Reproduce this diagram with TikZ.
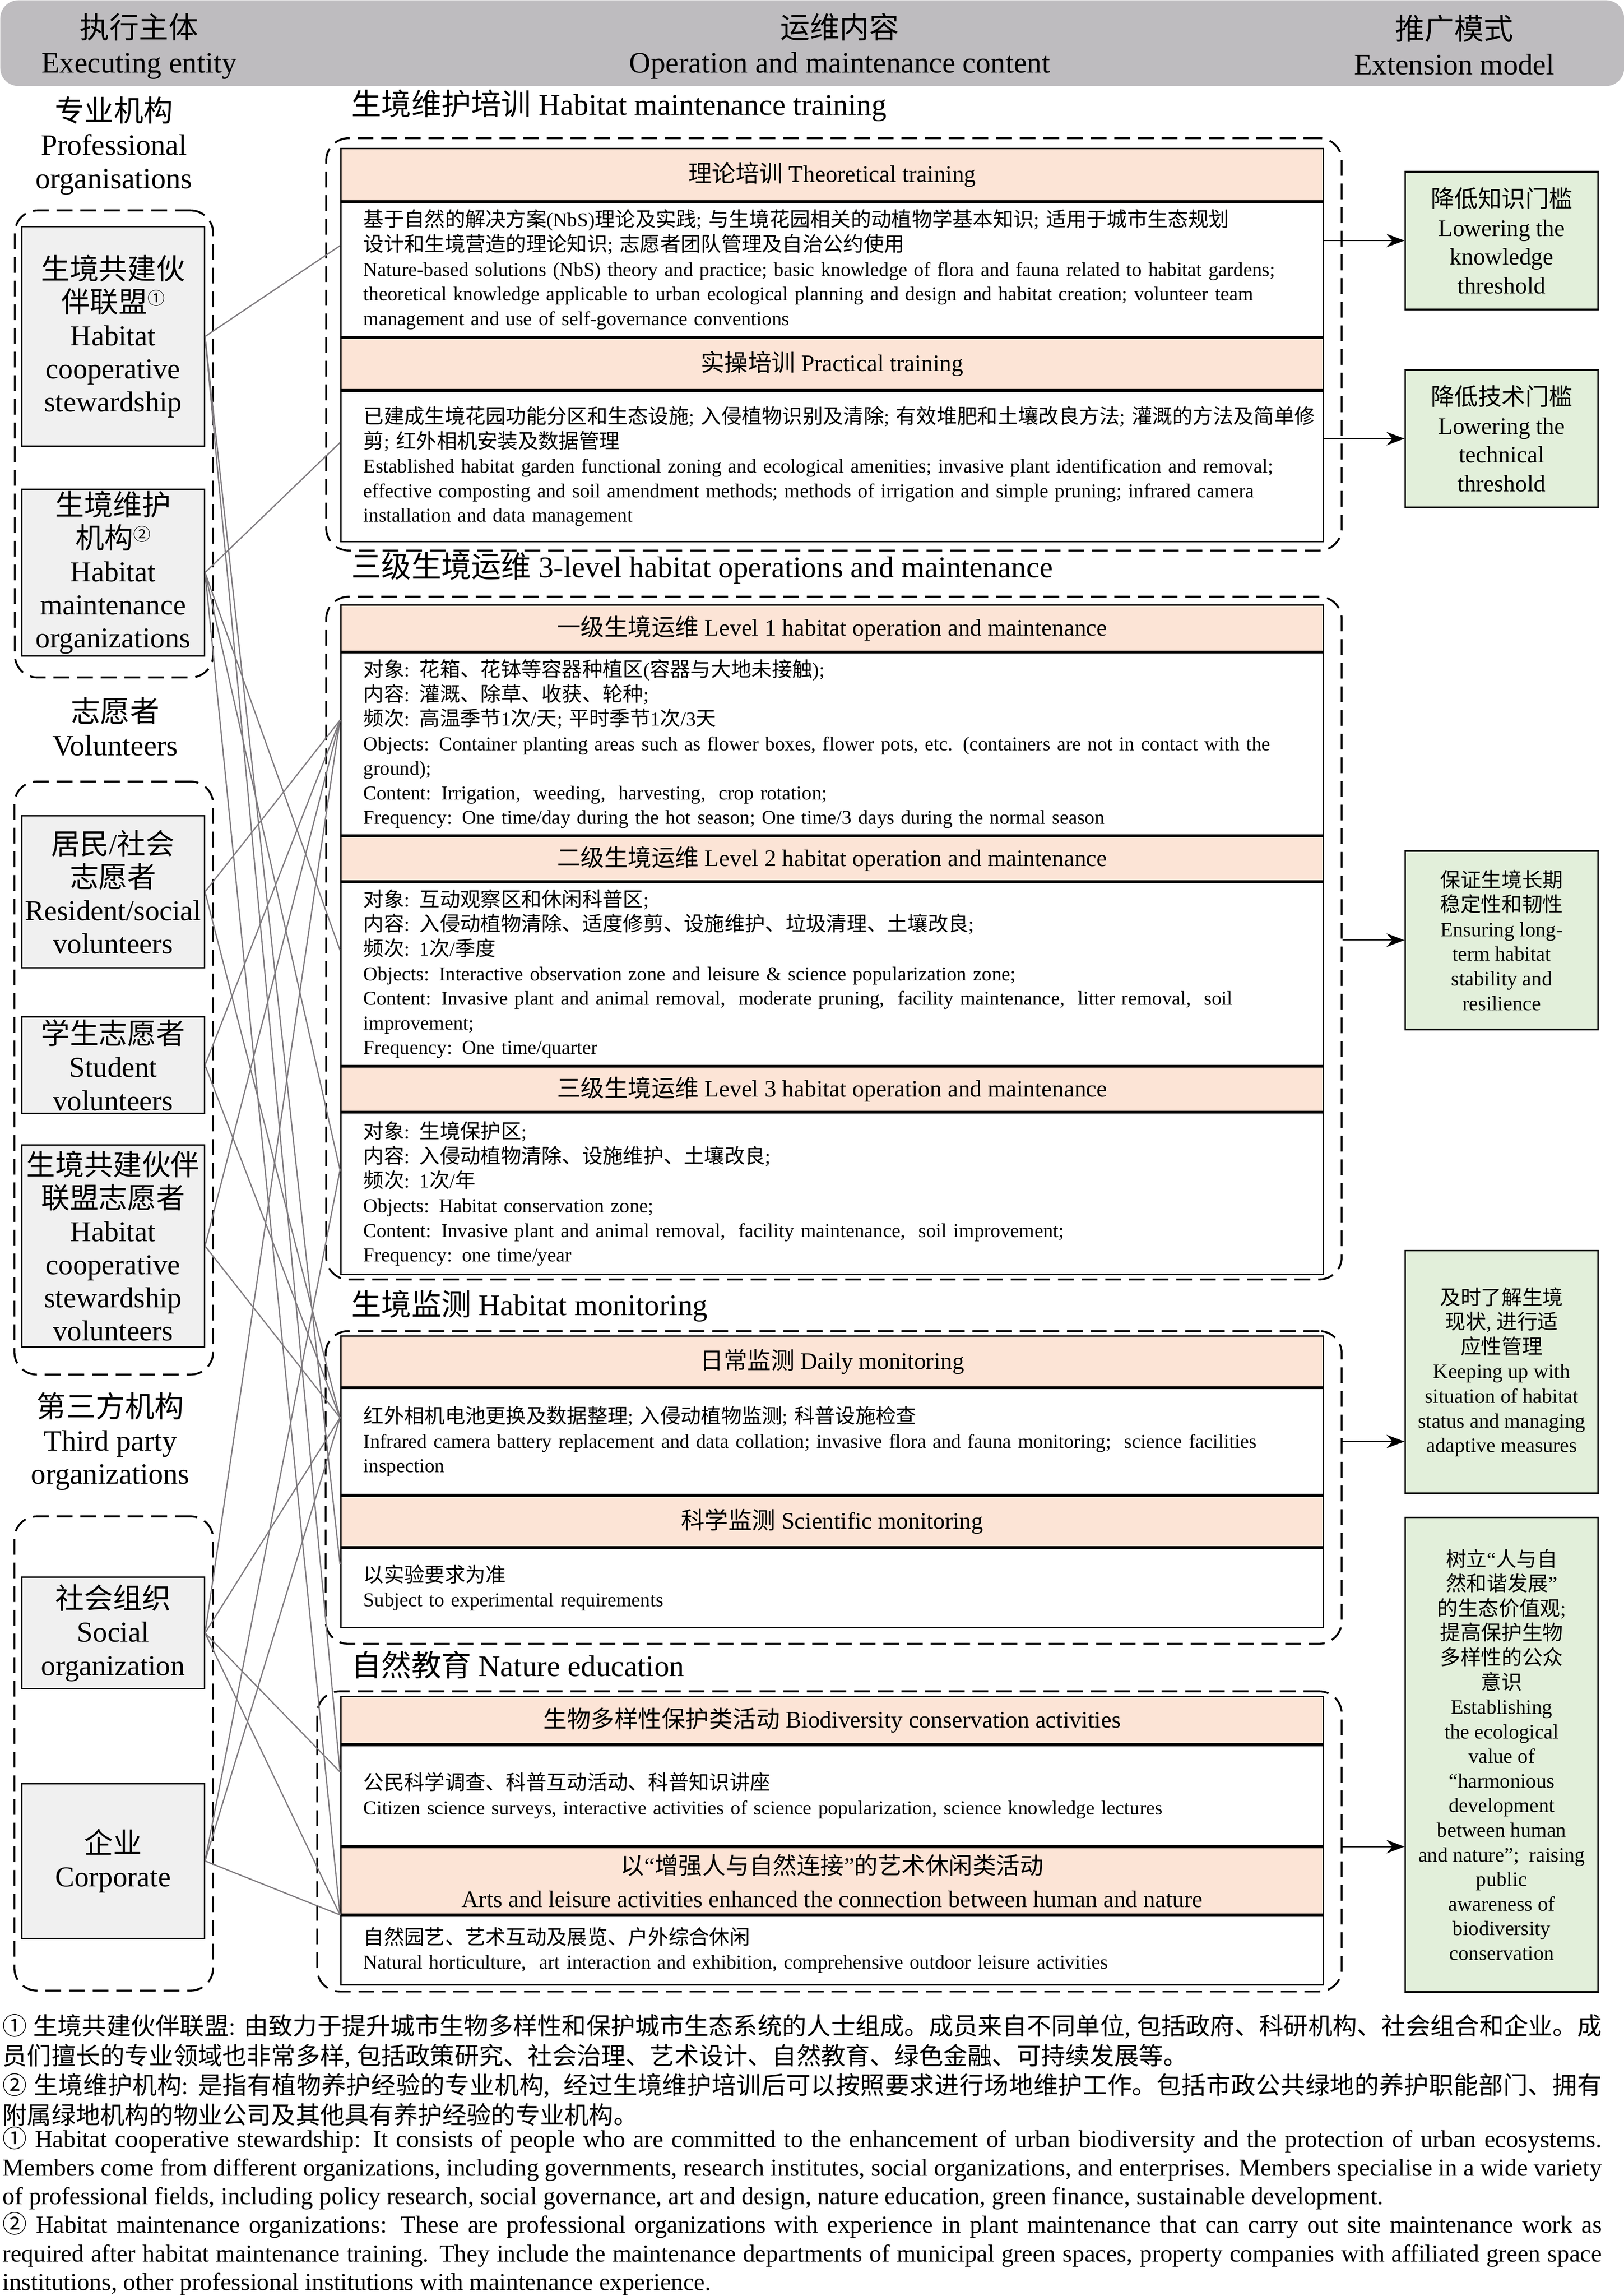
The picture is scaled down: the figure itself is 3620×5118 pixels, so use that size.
\documentclass[tikz,border=0pt]{standalone}
\usepackage{fontspec}
\setmainfont{Liberation Serif}
\newfontfamily\cjkfam{Noto Sans CJK SC}
\usetikzlibrary{positioning, calc, arrows.meta}

% switch to the CJK font for Chinese characters
\let\cjkscale\relax
\newcommand{\cjkfont}{\cjkfam\cjkscale}
\XeTeXinterchartokenstate=1
\chardef\cjkcls=7
\newcount\cjkc
\def\setcjkrange#1#2{\cjkc=#1\relax\loop\XeTeXcharclass\cjkc=\cjkcls\ifnum\cjkc<#2\advance\cjkc by 1\repeat}
\setcjkrange{"4E00}{"9FFF}
\setcjkrange{"3000}{"303F}
\setcjkrange{"FF00}{"FFEF}
\setcjkrange{"2460}{"2473}
\XeTeXcharclass"201C=0
\XeTeXcharclass"201D=0
\XeTeXinterchartoks 0 7 = {\begingroup\cjkfont}
\XeTeXinterchartoks 1 7 = {\begingroup\cjkfont}
\XeTeXinterchartoks 2 7 = {\begingroup\cjkfont}
\XeTeXinterchartoks 3 7 = {\begingroup\cjkfont}
\XeTeXinterchartoks 4095 7 = {\begingroup\cjkfont}
\XeTeXinterchartoks 7 0 = {\endgroup}
\XeTeXinterchartoks 7 1 = {\endgroup}
\XeTeXinterchartoks 7 2 = {\endgroup}
\XeTeXinterchartoks 7 3 = {\endgroup}
\XeTeXinterchartoks 7 4095 = {\endgroup}
\XeTeXlinebreaklocale "zh"
\XeTeXlinebreakskip=0pt plus 1pt

\definecolor{hdrgray}{RGB}{190,188,191}
\definecolor{entgray}{RGB}{240,240,240}
\definecolor{peach}{RGB}{252,228,214}
\definecolor{extgreen}{RGB}{226,239,218}
\definecolor{linkgray}{RGB}{127,123,127}

\newcommand{\fhdr}{\fontsize{18.8}{22}\selectfont}
\newcommand{\flab}{\fontsize{18.7}{21.2}\selectfont}
\newcommand{\fent}{\fontsize{18.3}{21}\selectfont}
\newcommand{\fsec}{\fontsize{19}{22}\selectfont}
\newcommand{\fhead}{\fontsize{15}{21}\selectfont}
\newcommand{\fbody}{\fontsize{12.5}{15.6}\selectfont\hyphenpenalty=10000\def\cjkscale{\fontsize{12.9}{15.6}\selectfont}}
\newcommand{\fextl}{\fontsize{15}{18.2}\selectfont}
\newcommand{\fexts}{\fontsize{13}{15.6}\selectfont}
\newcommand{\fnzh}{\fontsize{15.5}{18.8}\selectfont\parindent=0pt}
\newcommand{\fnen}{\fontsize{15.5}{18.1}\selectfont\parindent=0pt}
\newcommand{\sups}[1]{{\fontsize{11}{11}\selectfont\raisebox{5pt}{#1}}}

\begin{document}
\begin{tikzpicture}[x=0.1mm, y=-0.1mm,
    every node/.style={align=center, inner sep=0pt},
    grp/.style={rectangle, draw=black, dash pattern=on 10pt off 5pt, line width=1.2pt, rounded corners=5mm},
    ent/.style={rectangle, draw=black, fill=entgray, minimum width=40.7mm, line width=0.9pt, font=\fent},
    hd/.style={rectangle, draw=black, fill=peach, minimum width=219.1mm, line width=0.9pt, font=\fhead},
    bd/.style={rectangle, draw=black, fill=white, minimum width=219.1mm, text width=208.9mm, inner xsep=5.1mm, align=left, line width=0.9pt, font=\fbody},
    ext/.style={rectangle, draw=black, fill=extgreen, minimum width=43mm, line width=1pt},
    link/.style={draw=linkgray, line width=0.8pt},
    arrow/.style={line width=0.6pt, -{Stealth[length=4mm, width=3mm]}}
]
\useasboundingbox (0,0) rectangle (3620,5118);

% Header
\node (hdr) [fill=hdrgray, rounded corners=4mm, minimum width=362mm, minimum height=19.1mm, anchor=north west] at (0,0) {};
\node (hdl) [font=\fhdr] at (310,103) {执行主体\\Executing entity};
\node (hdm) [font=\fhdr] at (1872,103) {运维内容\\Operation and maintenance content};
\node (hdx) [font=\fhdr] at (3242,100) {推广模式\\Extension model};

% Executing entities
\node (lab1) [font=\flab] at (254,325) {专业机构\\Professional\\organisations};
\node (lg1) [grp, anchor=north west, minimum width=44.2mm, minimum height=104.1mm] at (31,467) {};
\node (pa) [ent, anchor=north west, minimum height=48.9mm] at (47,504) {生境共建伙\\伴联盟\sups{①}\\Habitat\\cooperative\\stewardship};
\node (pb) [ent, below=9.3mm of pa, minimum height=37.1mm] {生境维护\\机构\sups{②}\\Habitat\\maintenance\\organizations};

\node (lab2) [font=\flab] at (257,1620) {志愿者\\Volunteers};
\node (lg2) [grp, anchor=north west, minimum width=44.3mm, minimum height=132.2mm] at (30,1740) {};
\node (vr) [ent, anchor=north west, minimum height=33.9mm] at (47,1817) {居民/社会\\志愿者\\Resident/social\\volunteers};
\node (vs) [ent, below=10.6mm of vr, minimum height=21.5mm] {学生志愿者\\Student\\volunteers};
\node (vh) [ent, below=6.7mm of vs, minimum height=45.1mm] {生境共建伙伴\\联盟志愿者\\Habitat\\cooperative\\stewardship\\volunteers};

\node (lab3) [font=\flab] at (246,3213) {第三方机构\\Third party\\organizations};
\node (lg3) [grp, anchor=north west, minimum width=44.3mm, minimum height=105.7mm] at (30,3378) {};
\node (tso) [ent, anchor=north west, minimum height=24.9mm] at (47,3514) {社会组织\\Social\\organization};
\node (tco) [ent, below=20.8mm of tso, minimum height=34.5mm] {企业\\Corporate};

% Habitat maintenance training
\node (sec1) [font=\fsec, anchor=west] at (783,235) {生境维护培训 Habitat maintenance training};
\node (g1) [grp, anchor=north west, minimum width=226.4mm, minimum height=91.9mm] at (725,306) {};
\node (t1h) [hd, anchor=north west, minimum height=11.6mm] at (758,330) {理论培训 Theoretical training};
\node (t1b) [bd, below=0pt of t1h, minimum height=30mm] {基于自然的解决方案(NbS)理论及实践; 与生境花园相关的动植物学基本知识; 适用于城市生态规划\\
设计和生境营造的理论知识; 志愿者团队管理及自治公约使用\\
Nature-based solutions (NbS) theory and practice; basic knowledge of flora and fauna related to habitat gardens;\\
theoretical knowledge applicable to urban ecological planning and design and habitat creation; volunteer team\\
management and use of self-governance conventions};
\node (t2h) [hd, below=0pt of t1b, minimum height=11.5mm] {实操培训 Practical training};
\node (t2b) [bd, below=0pt of t2h, minimum height=33.5mm] {\mbox{已建成生境花园功能分区和生态设施; 入侵植物识别及清除; 有效堆肥和土壤改良方法; 灌溉的方法及简单修}\\
剪; 红外相机安装及数据管理\\
Established habitat garden functional zoning and ecological amenities; invasive plant identification and removal;\\
effective composting and soil amendment methods; methods of irrigation and simple pruning; infrared camera\\
installation and data management};

% 3-level habitat operations and maintenance
\node (sec2) [font=\fsec, anchor=west] at (783,1266) {三级生境运维 3-level habitat operations and maintenance};
\node (g2) [grp, anchor=north west, minimum width=226.4mm, minimum height=152.2mm] at (725,1328) {};
\node (l1h) [hd, anchor=north west, minimum height=10.3mm] at (758,1347) {一级生境运维 Level 1 habitat operation and maintenance};
\node (l1b) [bd, below=0pt of l1h, minimum height=40.7mm] {对象: 花箱、花钵等容器种植区(容器与大地未接触);\\
内容: 灌溉、除草、收获、轮种;\\
频次: 高温季节1次/天; 平时季节1次/3天\\
Objects: Container planting areas such as flower boxes, flower pots, etc. (containers are not in contact with the\\
ground);\\
Content: Irrigation,\ \ weeding,\ \ harvesting,\ \ crop rotation;\\
Frequency: One time/day during the hot season; One time/3 days during the normal season};
\node (l2h) [hd, below=0pt of l1b, minimum height=9.9mm] {二级生境运维 Level 2 habitat operation and maintenance};
\node (l2b) [bd, below=0pt of l2h, minimum height=40.8mm] {对象: 互动观察区和休闲科普区;\\
内容: 入侵动植物清除、适度修剪、设施维护、垃圾清理、土壤改良;\\
频次: 1次/季度\\
Objects: Interactive observation zone and leisure \& science popularization zone;\\
Content: Invasive plant and animal removal,\ \ moderate pruning,\ \ facility maintenance,\ \ litter removal,\ \ soil\\
improvement;\\
Frequency: One time/quarter};
\node (l3h) [hd, below=0pt of l2b, minimum height=9.9mm] {三级生境运维 Level 3 habitat operation and maintenance};
\node (l3b) [bd, below=0pt of l3h, minimum height=36.1mm] {对象: 生境保护区;\\
内容: 入侵动植物清除、设施维护、土壤改良;\\
频次: 1次/年\\
Objects: Habitat conservation zone;\\
Content: Invasive plant and animal removal,\ \ facility maintenance,\ \ soil improvement;\\
Frequency: one time/year};

% Habitat monitoring
\node (sec3) [font=\fsec, anchor=west] at (783,2911) {生境监测 Habitat monitoring};
\node (g3) [grp, anchor=north west, minimum width=226.5mm, minimum height=69.7mm] at (724,2965) {};
\node (m1h) [hd, anchor=north west, minimum height=11.3mm] at (758,2977) {日常监测 Daily monitoring};
\node (m1b) [bd, below=0pt of m1h, minimum height=23.7mm] {红外相机电池更换及数据整理; 入侵动植物监测; 科普设施检查\\
Infrared camera battery replacement and data collation; invasive flora and fauna monitoring;\ \ science facilities\\
inspection};
\node (m2h) [hd, below=0pt of m1b, minimum height=11.3mm] {科学监测 Scientific monitoring};
\node (m2b) [bd, below=0pt of m2h, minimum height=17.7mm] {以实验要求为准\\
Subject to experimental requirements};

% Nature education
\node (sec4) [font=\fsec, anchor=west] at (783,3711) {自然教育 Nature education};
\node (g4) [grp, anchor=north west, minimum width=228.4mm, minimum height=66.9mm] at (705,3768) {};
\node (n1h) [hd, anchor=north west, minimum height=10.6mm] at (758,3780) {生物多样性保护类活动 Biodiversity conservation activities};
\node (n1b) [bd, below=0pt of n1h, minimum height=22.4mm] {公民科学调查、科普互动活动、科普知识讲座\\
Citizen science surveys, interactive activities of science popularization, science knowledge lectures};
\node (n2h) [hd, below=0pt of n1b, minimum height=14.9mm] {以“增强人与自然连接”的艺术休闲类活动\\Arts and leisure activities enhanced the connection between human and nature};
\node (n2b) [bd, below=0pt of n2h, minimum height=15.4mm] {自然园艺、艺术互动及展览、户外综合休闲\\
Natural horticulture,\ \ art interaction and exhibition, comprehensive outdoor leisure activities};

% Extension models
\node (e1) [ext, anchor=north west, minimum height=30.7mm, font=\fextl] at (3131,381) {降低知识门槛\\Lowering the\\knowledge\\threshold};
\node (e2) [ext, below=13.1mm of e1, minimum height=30.7mm, font=\fextl] {降低技术门槛\\Lowering the\\technical\\threshold};
\node (e3) [ext, anchor=north west, minimum height=39.8mm, font=\fexts] at (3131,1895) {保证生境长期\\稳定性和韧性\\Ensuring long-\\term habitat\\stability and\\resilience};
\node (e4) [ext, anchor=north west, minimum height=54.1mm, font=\fexts] at (3131,2786) {及时了解生境\\现状, 进行适\\应性管理\\Keeping up with\\situation of habitat\\status and managing\\adaptive measures};
\node (e5) [ext, below=5mm of e4, minimum height=105.8mm, font=\fexts] {树立“人与自\\然和谐发展”\\的生态价值观;\\提高保护生物\\多样性的公众\\意识\\Establishing\\the ecological\\value of\\“harmonious\\development\\between human\\and nature”;\ \ raising\\public\\awareness of\\biodiversity\\conservation};

% Arrows
\draw [arrow] (t1b.east |- e1.west) -- (e1.west);
\draw [arrow] (t2b.east |- e2.west) -- (e2.west);
\draw [arrow] (g2.east |- e3.west) -- (e3.west);
\draw [arrow] (m1b.east -| g3.east) -- (m1b.east -| e4.west);
\draw [arrow] (n1b.south -| g4.east) -- (n1b.south -| e5.west);

% Links
\draw [link] (pa.east) -- ($(t1b.west)+(0,-53)$);
\draw [link] (pa.east) -- ($(m2b.west)+(0,-53)$);
\draw [link] (pa.east) -- ($(n1b.west)+(0,-53)$);
\draw [link] (pb.east) -- ($(t2b.west)+(0,-53)$);
\draw [link] (pb.east) -- ($(l2b.west)+(0,-53)$);
\draw [link] (pb.east) -- ($(l3b.west)+(0,-53)$);
\draw [link] (pb.east) -- (n2b.north west);
\draw [link] (vr.east) -- ($(l1b.west)+(0,-53)$);
\draw [link] (vr.east) -- ($(m1b.west)+(0,-53)$);
\draw [link] (vs.east) -- ($(l1b.west)+(0,-53)$);
\draw [link] (vs.east) -- ($(m1b.west)+(0,-53)$);
\draw [link] (vh.east) -- ($(l1b.west)+(0,-53)$);
\draw [link] (vh.east) -- ($(m1b.west)+(0,-53)$);
\draw [link] (tso.east) -- ($(l1b.west)+(0,-53)$);
\draw [link] (tso.east) -- ($(m1b.west)+(0,-53)$);
\draw [link] (tso.east) -- ($(n1b.west)+(0,-53)$);
\draw [link] (tso.east) -- (n2b.north west);
\draw [link] (tco.east) -- ($(l3b.west)+(0,-53)$);
\draw [link] (tco.east) -- ($(m1b.west)+(0,-53)$);
\draw [link] (tco.east) -- (n2b.north west);

% Notes
\node (fnzh) [anchor=north west, text width=356.5mm, align=justify, font=\fnzh] at (5,4489) {① 生境共建伙伴联盟: 由致力于提升城市生物多样性和保护城市生态系统的人士组成。成员来自不同单位, 包括政府、科研机构、社会组合和企业。成\linebreak
员们擅长的专业领域也非常多样, 包括政策研究、社会治理、艺术设计、自然教育、绿色金融、可持续发展等。\par
② 生境维护机构: 是指有植物养护经验的专业机构, \ 经过生境维护培训后可以按照要求进行场地维护工作。包括市政公共绿地的养护职能部门、拥有\linebreak
附属绿地机构的物业公司及其他具有养护经验的专业机构。};
\node (fnen) [anchor=north west, text width=356.5mm, align=justify, font=\fnen] at (5,4740) {① Habitat cooperative stewardship: It consists of people who are committed to the enhancement of urban biodiversity and the protection of urban ecosystems.\linebreak
Members come from different organizations, including governments, research institutes, social organizations, and enterprises. Members specialise in a wide variety\linebreak
of professional fields, including policy research, social governance, art and design, nature education, green finance, sustainable development.\par
② Habitat maintenance organizations: These are professional organizations with experience in plant maintenance that can carry out site maintenance work as\linebreak
required after habitat maintenance training. They include the maintenance departments of municipal green spaces, property companies with affiliated green space\linebreak
institutions, other professional institutions with maintenance experience.};

\end{tikzpicture}
\end{document}
